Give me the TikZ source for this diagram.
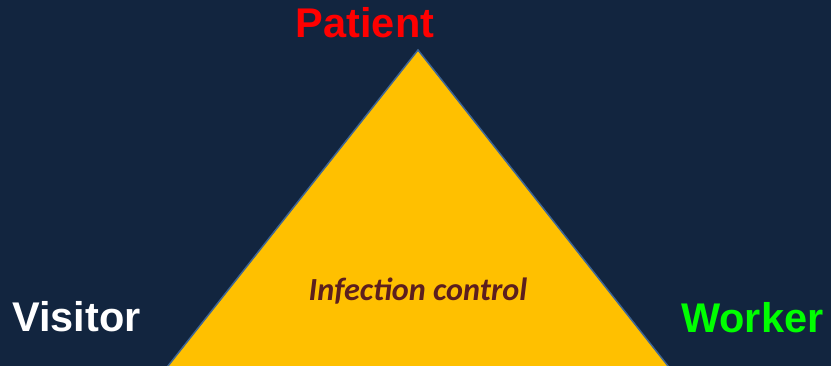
\documentclass[tikz,border=0pt]{standalone}
\usepackage{fontspec}
\usetikzlibrary{calc}
\setmainfont{Liberation Sans}
\newfontfamily\calfont{Carlito}
\definecolor{bgnavy}{HTML}{12253F}
\definecolor{triyellow}{HTML}{FFC000}
\definecolor{triedge}{HTML}{3E6595}
\definecolor{labred}{HTML}{FF0000}
\definecolor{labgreen}{HTML}{00FF00}
\definecolor{centerbrown}{HTML}{5C1F1F}
\begin{document}
\begin{tikzpicture}[x=1pt,y=-1pt,
  rolelabel/.style={inner sep=0pt,font=\fontsize{41.5}{41.5}\selectfont\bfseries},
  centerlabel/.style={inner sep=0pt,text=centerbrown,font=\calfont\fontsize{32.2}{32.2}\selectfont\bfseries\itshape}]
  \fill[bgnavy] (0,0) rectangle (831,366);
  \useasboundingbox (0,0) rectangle (831,366);
  \coordinate (apex) at (418,50);
  \coordinate (bl) at (168,366);
  \coordinate (br) at (668,366);
  \begin{scope}
    \clip (0,0) rectangle (831,366);
    \filldraw[fill=triyellow,draw=triedge,line width=1.5pt,line join=miter]
      (apex) -- ($(bl)+(-2.4,3)$) -- ($(br)+(2.4,3)$) -- cycle;
  \end{scope}
  \node[rolelabel,text=labred,anchor=base] (patient) at (365,38) {Patient};
  \node[rolelabel,text=white,anchor=base west] (visitor) at (12,331.5) {Visitor};
  \node[rolelabel,text=labgreen,anchor=base west] (worker) at (681,332.5) {Worker};
  \node[centerlabel,anchor=base] (ic) at (418,301) {Infection control};
\end{tikzpicture}
\end{document}
